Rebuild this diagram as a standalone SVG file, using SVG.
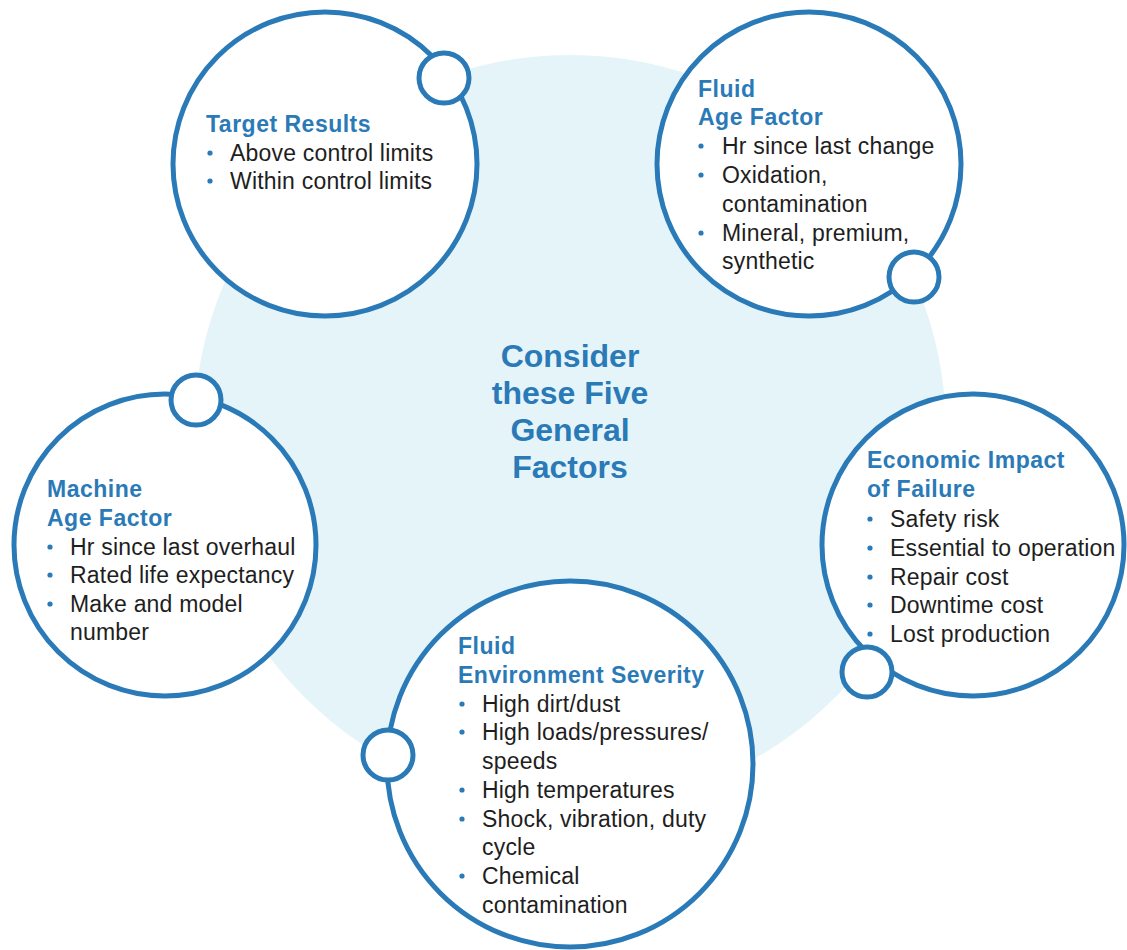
<svg xmlns="http://www.w3.org/2000/svg" width="1127" height="950" viewBox="0 0 1127 950">
<style>
.bg{fill:#e5f4f8}
.ring{fill:#fff;stroke:#2a7ab8;stroke-width:5}
.knob{fill:#fff;stroke:#2a7ab8;stroke-width:5}
.t{font-family:"Liberation Sans",Arial,sans-serif;font-weight:bold;font-size:23px;fill:#2a7ab8;letter-spacing:0.5px}
.b{font-family:"Liberation Sans",Arial,sans-serif;font-size:23px;fill:#1e1e1e;letter-spacing:0.2px}
.c{font-family:"Liberation Sans",Arial,sans-serif;font-weight:bold;font-size:32px;fill:#2a7ab8;text-anchor:middle}
.d{fill:#2a7ab8}
</style>
<rect width="1127" height="950" fill="#fff"/>
<g id="center">
<circle class="bg" cx="570" cy="431" r="376"/>
<text class="c" x="570" y="367">Consider</text>
<text class="c" x="570" y="404">these Five</text>
<text class="c" x="570" y="441">General</text>
<text class="c" x="570" y="478">Factors</text>
</g>
<g id="connectors"></g>
<g id="target-results">
<circle class="ring" cx="325" cy="164" r="152"/>
<circle class="knob" cx="444" cy="78" r="25"/>
<text class="t" x="206" y="132">Target Results</text>
<circle class="d" cx="210" cy="153" r="2.6"/>
<text class="b" x="230" y="161">Above control limits</text>
<circle class="d" cx="210" cy="181" r="2.6"/>
<text class="b" x="230" y="189">Within control limits</text>
</g>
<g id="fluid-age">
<circle class="ring" cx="809" cy="164" r="152"/>
<circle class="knob" cx="914" cy="277" r="25"/>
<text class="t" x="698" y="97">Fluid</text>
<text class="t" x="698" y="125">Age Factor</text>
<circle class="d" cx="701" cy="146" r="2.6"/>
<text class="b" x="722" y="154">Hr since last change</text>
<circle class="d" cx="701" cy="175" r="2.6"/>
<text class="b" x="722" y="183">Oxidation,</text>
<text class="b" x="722" y="212">contamination</text>
<circle class="d" cx="701" cy="233" r="2.6"/>
<text class="b" x="722" y="241">Mineral, premium,</text>
<text class="b" x="722" y="269">synthetic</text>
</g>
<g id="economic-impact">
<circle class="ring" cx="973" cy="545" r="151"/>
<circle class="knob" cx="867" cy="672" r="25"/>
<text class="t" x="867" y="468">Economic Impact</text>
<text class="t" x="867" y="497">of Failure</text>
<circle class="d" cx="870" cy="519" r="2.6"/>
<text class="b" x="890" y="527">Safety risk</text>
<circle class="d" cx="870" cy="548" r="2.6"/>
<text class="b" x="890" y="556">Essential to operation</text>
<circle class="d" cx="870" cy="577" r="2.6"/>
<text class="b" x="890" y="585">Repair cost</text>
<circle class="d" cx="870" cy="605" r="2.6"/>
<text class="b" x="890" y="613">Downtime cost</text>
<circle class="d" cx="870" cy="634" r="2.6"/>
<text class="b" x="890" y="642">Lost production</text>
</g>
<g id="machine-age">
<circle class="ring" cx="165" cy="545" r="151"/>
<circle class="knob" cx="196" cy="400" r="25"/>
<text class="t" x="47" y="497">Machine</text>
<text class="t" x="47" y="526">Age Factor</text>
<circle class="d" cx="50" cy="547" r="2.6"/>
<text class="b" x="70" y="555">Hr since last overhaul</text>
<circle class="d" cx="50" cy="575" r="2.6"/>
<text class="b" x="70" y="583">Rated life expectancy</text>
<circle class="d" cx="50" cy="604" r="2.6"/>
<text class="b" x="70" y="612">Make and model</text>
<text class="b" x="70" y="640">number</text>
</g>
<g id="fluid-environment">
<circle class="ring" cx="570" cy="764" r="183"/>
<circle class="knob" cx="388" cy="755" r="25"/>
<text class="t" x="458" y="654">Fluid</text>
<text class="t" x="458" y="683">Environment Severity</text>
<circle class="d" cx="462" cy="704" r="2.6"/>
<text class="b" x="482" y="712">High dirt/dust</text>
<circle class="d" cx="462" cy="732" r="2.6"/>
<text class="b" x="482" y="740">High loads/pressures/</text>
<text class="b" x="482" y="769">speeds</text>
<circle class="d" cx="462" cy="790" r="2.6"/>
<text class="b" x="482" y="798">High temperatures</text>
<circle class="d" cx="462" cy="819" r="2.6"/>
<text class="b" x="482" y="827">Shock, vibration, duty</text>
<text class="b" x="482" y="855">cycle</text>
<circle class="d" cx="462" cy="876" r="2.6"/>
<text class="b" x="482" y="884">Chemical</text>
<text class="b" x="482" y="913">contamination</text>
</g>
</svg>
